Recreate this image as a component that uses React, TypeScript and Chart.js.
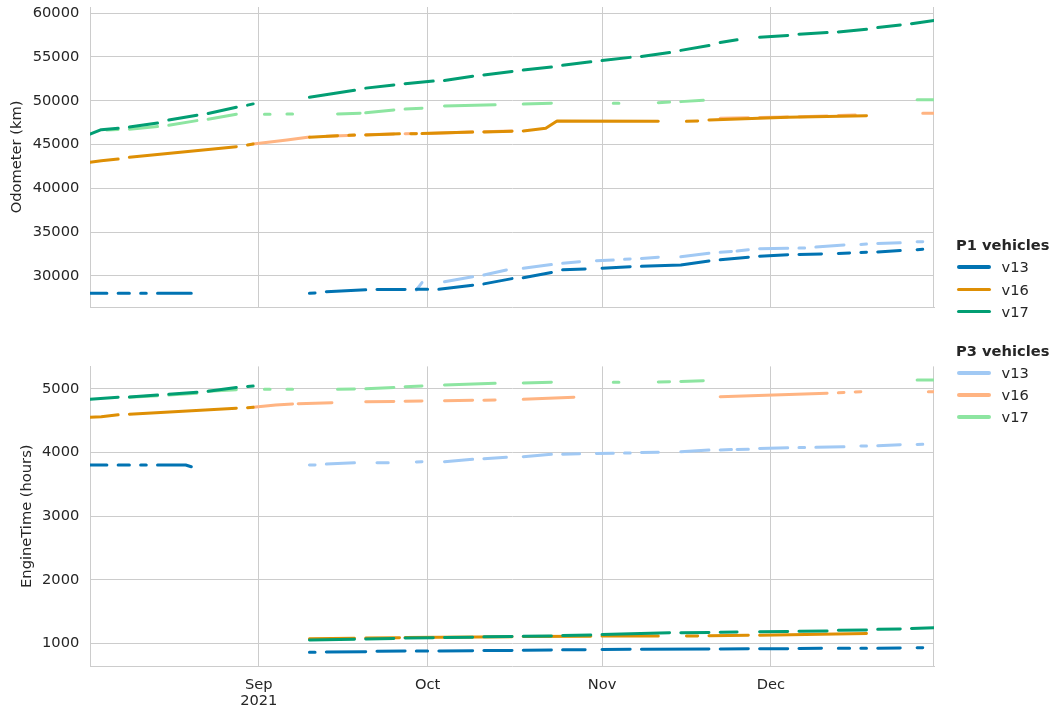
import React, { useEffect, useRef } from 'react';
import { Chart, registerables } from 'chart.js';

Chart.register(...registerables);

const FONT = "'DejaVu Sans', 'Noto Sans', sans-serif";
const TEXT = '#262626';
const GRID = '#cccccc';

// x = days since 2021-08-01 (Aug 1 = 0)
const xMinDay = 1;
const xMaxDay = 151;
const monthTickDays = [31, 61, 92, 122];
const monthTickLabels: (string | string[])[] = [['Sep', '2021'], 'Oct', 'Nov', 'Dec'];

const odoTicks = [30000, 35000, 40000, 45000, 50000, 55000, 60000];
const engTicks = [1000, 2000, 3000, 4000, 5000];

const vehicles = ['v13', 'v16', 'v17'];
const p1Colors = ['#0173b2', '#de8f05', '#029e73'];
const p3Colors = ['#a1c9f4', '#ffb482', '#8de5a1'];

// Each run: [day, value, day, value, ...] — a stretch of consecutive daily records
const odoP1v13 = [
  [1, 28020, 4, 28020], [6, 28020, 8, 28020], [10, 28020, 11, 28020], [13, 28020, 19, 28020],
  [40, 28020, 41, 28060], [43, 28200, 50, 28420], [52, 28450, 57, 28470], [59, 28480, 61, 28480],
  [63, 28480, 69, 28950], [71, 29100, 76, 29700], [78, 29800, 83, 30400], [85, 30700, 89, 30800],
  [92, 30880, 97, 31060], [99, 31100, 106, 31260, 111, 31720], [113, 31850, 118, 32150],
  [120, 32250, 125, 32420], [127, 32460, 131, 32520], [134, 32580, 136, 32620], [138, 32680, 139, 32700],
  [141, 32750, 145, 32900], [148, 33000, 149, 33050],
];
const odoP1v16 = [
  [1, 42980, 3, 43150, 6, 43350], [8, 43550, 27, 44760], [29, 44950, 30, 45070],
  [40, 45840, 45, 46000], [47, 46050, 48, 46080], [50, 46100, 56, 46220], [58, 46230, 59, 46240],
  [60, 46250, 69, 46420], [71, 46440, 76, 46520], [78, 46560, 82, 46870, 84, 47700, 102, 47650],
  [107, 47650, 109, 47700], [111, 47800, 125, 48120, 139, 48300],
];
const odoP1v17 = [
  [1, 46180, 3, 46700, 6, 46870], [8, 47000, 13, 47450], [15, 47800, 20, 48350], [22, 48550, 27, 49250],
  [29, 49500, 30, 49640], [40, 50400, 48, 51200], [50, 51440, 55, 51810], [57, 51950, 62, 52250],
  [64, 52300, 69, 52800], [71, 52950, 76, 53350], [78, 53500, 83, 53850], [85, 54050, 90, 54450],
  [92, 54590, 97, 54950], [99, 55060, 104, 55500], [106, 55750, 111, 56300], [113, 56650, 116, 56950],
  [120, 57250, 125, 57450], [127, 57600, 132, 57780], [134, 57850, 139, 58150], [141, 58350, 145, 58650],
  [147, 58800, 151, 59150],
];
const odoP3v13 = [
  [59, 28400, 60, 29250], [64, 29350, 69, 29920], [71, 30120, 75, 30690], [78, 30880, 83, 31300],
  [85, 31450, 88, 31630], [91, 31750, 94, 31830], [96, 31900, 97, 31950], [99, 32000, 102, 32140],
  [106, 32200, 111, 32600], [113, 32700, 115, 32800], [116, 32850, 118, 33000], [120, 33100, 125, 33160],
  [127, 33180, 128, 33200], [130, 33300, 135, 33540], [138, 33600, 139, 33650], [141, 33700, 145, 33800],
  [148, 33900, 149, 33920],
];
const odoP3v16 = [
  [30, 45070, 36, 45530, 40, 45870], [43, 45950, 48, 46060], [50, 46120, 55, 46210], [57, 46240, 59, 46260],
  [61, 46270, 69, 46440], [71, 46460, 76, 46550], [113, 48000, 118, 48060], [120, 48090, 125, 48140],
  [127, 48170, 132, 48260], [134, 48310, 137, 48360], [149, 48580, 151, 48580],
];
const odoP3v17 = [
  [4, 46650, 6, 46720], [8, 46750, 13, 47050], [15, 47200, 20, 47730], [22, 47900, 27, 48470],
  [32, 48470, 33, 48470], [36, 48480, 37, 48480], [45, 48500, 49, 48580], [50, 48620, 55, 48950],
  [57, 49050, 60, 49150], [64, 49400, 73, 49530], [78, 49620, 83, 49720], [94, 49720, 95, 49720],
  [102, 49780, 104, 49850], [106, 49900, 110, 50050], [148, 50100, 151, 50100],
];

const engP1v13 = [
  [1, 3803, 4, 3803], [6, 3803, 8, 3803], [10, 3803, 11, 3803], [13, 3803, 18, 3803, 19, 3776],
  [40, 864, 41, 864], [43, 870, 50, 874], [52, 880, 57, 884], [59, 884, 61, 884], [63, 885, 69, 890],
  [71, 892, 76, 895], [78, 897, 83, 900], [85, 903, 89, 905], [92, 908, 97, 911], [99, 912, 111, 916],
  [113, 918, 118, 921], [120, 921, 125, 922], [127, 924, 131, 927], [134, 927, 136, 927], [138, 928, 139, 928],
  [141, 930, 145, 932], [148, 935, 149, 937],
];
const engP1v16 = [
  [1, 4551, 3, 4560, 6, 4590], [8, 4600, 27, 4695], [29, 4703, 30, 4708],
  [40, 1078, 48, 1085], [50, 1088, 56, 1095], [57, 1097, 76, 1110], [78, 1113, 90, 1118], [92, 1120, 102, 1120],
  [107, 1120, 109, 1121], [111, 1123, 118, 1131], [120, 1133, 139, 1160],
];
const engP1v17 = [
  [1, 4834, 6, 4866], [8, 4870, 13, 4900], [15, 4915, 20, 4945], [22, 4960, 27, 5020], [29, 5035, 30, 5042],
  [40, 1057, 48, 1070], [50, 1075, 55, 1082], [57, 1088, 62, 1095], [64, 1097, 69, 1102], [71, 1107, 76, 1112],
  [78, 1117, 83, 1122], [85, 1127, 90, 1135], [92, 1145, 104, 1172], [106, 1172, 111, 1175], [113, 1180, 116, 1183],
  [120, 1187, 125, 1190], [127, 1195, 132, 1200], [134, 1210, 139, 1215], [141, 1225, 145, 1232], [147, 1240, 151, 1250],
];
const engP3v13 = [
  [40, 3803, 41, 3805], [43, 3818, 48, 3839], [52, 3839, 54, 3840], [59, 3850, 60, 3855], [64, 3855, 69, 3892],
  [71, 3902, 75, 3924], [78, 3933, 83, 3971], [85, 3973, 88, 3980], [91, 3984, 94, 3986], [96, 3990, 97, 3992],
  [99, 4000, 102, 4002], [106, 4012, 111, 4038], [113, 4040, 115, 4045], [116, 4047, 118, 4050],
  [120, 4062, 125, 4075], [127, 4076, 128, 4077], [130, 4080, 135, 4090], [138, 4100, 139, 4101],
  [141, 4106, 145, 4122], [148, 4126, 149, 4128],
];
const engP3v16 = [
  [30, 4708, 34, 4744, 37, 4760], [38, 4765, 44, 4780], [50, 4796, 55, 4800], [57, 4805, 60, 4807],
  [64, 4812, 69, 4818], [71, 4820, 73, 4822], [78, 4833, 87, 4865], [113, 4875, 132, 4928],
  [134, 4935, 135, 4940], [137, 4950, 138, 4953], [150, 4953, 151, 4953],
];
const engP3v17 = [
  [8, 4865, 13, 4890], [15, 4900, 20, 4930], [22, 4960, 27, 4985], [32, 4990, 33, 4990], [36, 4990, 37, 4990],
  [45, 4990, 48, 4995], [50, 5000, 55, 5020], [57, 5030, 60, 5042], [64, 5058, 73, 5084], [78, 5090, 83, 5100],
  [94, 5100, 95, 5100], [102, 5105, 104, 5110], [106, 5115, 110, 5125], [148, 5136, 151, 5136],
];

function runsToPoints(runs: number[][]) {
  const pts: { x: number; y: number | null }[] = [];
  let prevEnd = 0;
  runs.forEach((r, i) => {
    if (i > 0) pts.push({ x: (prevEnd + r[0]) / 2, y: null });
    for (let k = 0; k < r.length; k += 2) pts.push({ x: r[k], y: r[k + 1] });
    prevEnd = r[r.length - 2];
  });
  return pts;
}

function makeDatasets(p1: number[][][], p3: number[][][]) {
  // index 0 is drawn on top
  const ds: any[] = [];
  for (let i = 2; i >= 0; i--) {
    ds.push({ label: 'P1 ' + vehicles[i], data: runsToPoints(p1[i]), borderColor: p1Colors[i] });
  }
  for (let i = 2; i >= 0; i--) {
    ds.push({ label: 'P3 ' + vehicles[i], data: runsToPoints(p3[i]), borderColor: p3Colors[i] });
  }
  return ds.map((d) => ({
    ...d,
    backgroundColor: d.borderColor,
    borderWidth: 3,
    pointRadius: 0,
    tension: 0,
    fill: false,
    spanGaps: false,
    borderCapStyle: 'round',
    borderJoinStyle: 'round',
  }));
}

const rightSpine = {
  id: 'rightSpine',
  beforeDatasetsDraw(chart: any) {
    const { ctx, chartArea } = chart;
    ctx.save();
    ctx.strokeStyle = GRID;
    ctx.lineWidth = 1;
    ctx.beginPath();
    const x = Math.round(chartArea.right) - 0.5;
    ctx.moveTo(x, chartArea.top);
    ctx.lineTo(x, chartArea.bottom);
    ctx.stroke();
    ctx.restore();
  },
};

function makeConfig(opts: {
  datasets: any[];
  yMin: number;
  yMax: number;
  yTicks: number[];
  yTitle: string;
  titlePad: number;
  padTop: number;
  showX: boolean;
  xHeight: number;
}) {
  const font = { family: FONT, size: 14.67 };
  return {
    type: 'line',
    data: { datasets: opts.datasets },
    options: {
      animation: false,
      responsive: false,
      maintainAspectRatio: false,
      devicePixelRatio: 1,
      layout: { padding: { top: opts.padTop, right: 119, left: 0, bottom: 0 } },
      plugins: { legend: { display: false }, tooltip: { enabled: false } },
      scales: {
        x: {
          type: 'linear',
          min: xMinDay,
          max: xMaxDay,
          afterBuildTicks: (s: any) => {
            s.ticks = monthTickDays.map((v) => ({ value: v }));
          },
          ticks: {
            display: opts.showX,
            autoSkip: false,
            maxRotation: 0,
            padding: 11,
            color: TEXT,
            font: { ...font, lineHeight: 1.12 },
            callback: (v: number) => {
              const i = monthTickDays.indexOf(v);
              return i >= 0 ? monthTickLabels[i] : '';
            },
          },
          grid: { color: GRID, lineWidth: 1, drawTicks: false },
          border: { display: true, color: GRID, width: 1 },
          afterFit: (s: any) => {
            s.height = opts.xHeight;
            s.paddingLeft = 0;
            s.paddingRight = 0;
          },
        },
        y: {
          type: 'linear',
          min: opts.yMin,
          max: opts.yMax,
          afterBuildTicks: (s: any) => {
            s.ticks = opts.yTicks.map((v) => ({ value: v }));
          },
          ticks: { padding: 10.7, color: TEXT, font, callback: (v: number) => String(v) },
          grid: { color: GRID, lineWidth: 1, drawTicks: false },
          border: { display: true, color: GRID, width: 1 },
          title: {
            display: true,
            text: opts.yTitle,
            color: TEXT,
            font,
            padding: { top: opts.titlePad, bottom: 0 },
          },
          afterFit: (s: any) => {
            s.width = 90;
            s.paddingTop = 0;
            s.paddingBottom = 0;
          },
        },
      },
    },
    plugins: [rightSpine],
  };
}

function LegendBlock() {
  const groups = [
    { title: 'P1 vehicles', colors: p1Colors, titleY: 245, itemY: [267, 289.5, 311.5] },
    { title: 'P3 vehicles', colors: p3Colors, titleY: 351, itemY: [373, 395, 417] },
  ];
  const base: React.CSSProperties = {
    position: 'absolute',
    fontFamily: FONT,
    fontSize: '14.67px',
    lineHeight: '18px',
    color: TEXT,
    whiteSpace: 'nowrap',
  };
  return (
    <>
      {groups.map((g) => (
        <React.Fragment key={g.title}>
          <div style={{ ...base, left: 956, top: g.titleY - 9, fontWeight: 'bold' }}>{g.title}</div>
          {vehicles.map((v, i) => (
            <React.Fragment key={v}>
              <div
                style={{
                  position: 'absolute',
                  left: 957,
                  top: g.itemY[i] - 1.6,
                  width: 34,
                  height: 3.2,
                  borderRadius: 2,
                  background: g.colors[i],
                }}
              />
              <div style={{ ...base, left: 1001.5, top: g.itemY[i] - 9 }}>{v}</div>
            </React.Fragment>
          ))}
        </React.Fragment>
      ))}
    </>
  );
}

export default function App() {
  const topRef = useRef<HTMLCanvasElement>(null);
  const botRef = useRef<HTMLCanvasElement>(null);

  useEffect(() => {
    document.body.style.overflow = 'hidden';
    const top = new Chart(
      topRef.current as HTMLCanvasElement,
      makeConfig({
        datasets: makeDatasets([odoP1v13, odoP1v16, odoP1v17], [odoP3v13, odoP3v16, odoP3v17]),
        yMin: 26460,
        yMax: 60700,
        yTicks: odoTicks,
        yTitle: 'Odometer (km)',
        titlePad: 8.7,
        padTop: 7,
        showX: false,
        xHeight: 13,
      }) as any
    );
    const bot = new Chart(
      botRef.current as HTMLCanvasElement,
      makeConfig({
        datasets: makeDatasets([engP1v13, engP1v16, engP1v17], [engP3v13, engP3v16, engP3v17]),
        yMin: 650,
        yMax: 5350,
        yTicks: engTicks,
        yTitle: 'EngineTime (hours)',
        titlePad: 18.7,
        padTop: 36.4,
        showX: true,
        xHeight: 43,
      }) as any
    );
    return () => {
      top.destroy();
      bot.destroy();
    };
  }, []);

  return (
    <div style={{ position: 'absolute', left: 0, top: 0, width: 1053, height: 709, background: '#fff', overflow: 'hidden' }}>
      <canvas ref={topRef} width={1053} height={320} style={{ position: 'absolute', left: 0, top: 0, display: 'block' }} />
      <canvas ref={botRef} width={1053} height={379} style={{ position: 'absolute', left: 0, top: 330, display: 'block' }} />
      <LegendBlock />
    </div>
  );
}
